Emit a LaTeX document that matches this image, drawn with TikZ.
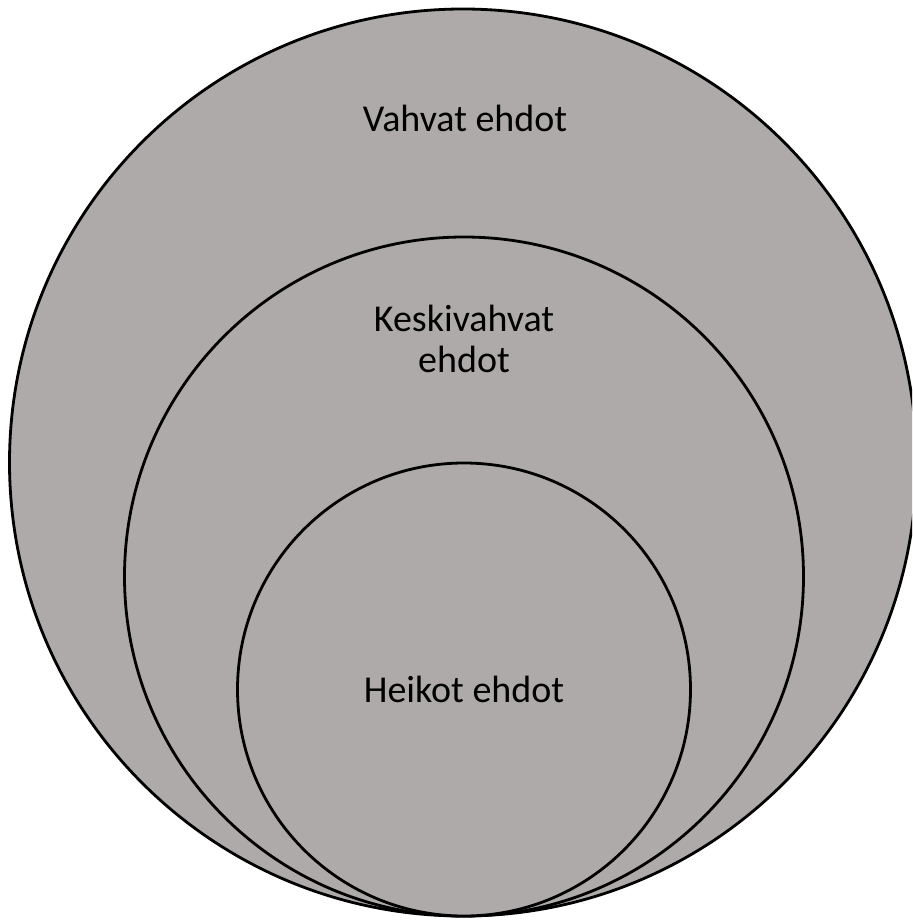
\documentclass[tikz,border=0pt]{standalone}
\usepackage{fontspec}
\setmainfont{Carlito}
\definecolor{ringfill}{HTML}{AEAAAA}
\begin{document}
\begin{tikzpicture}[x=1pt,y=-1pt,
  ring/.style={draw=black,line width=2.8pt,fill=ringfill},
  lbl/.style={font=\fontsize{38}{40.5}\selectfont,text=black,align=center,inner sep=0pt}]
\clip (0,0) rectangle (912,920);
\fill[white] (0,0) rectangle (912,920);
\coordinate (outer) at (463,462.5);
\coordinate (middle) at (464,576.5);
\coordinate (inner) at (464,689.5);
\path[ring] (outer) circle[radius=453.5pt];
\path[ring] (middle) circle[radius=339.5pt];
\path[ring] (inner) circle[radius=226.5pt];
\node[lbl,anchor=base] (tstrong) at (465,132) {Vahvat ehdot};
\node[lbl,anchor=base] (tmid) at (464,372.3) {Keskivahvat\\ehdot};
\node[lbl,anchor=base] (tweak) at (464,702) {Heikot ehdot};
\end{tikzpicture}
\end{document}
